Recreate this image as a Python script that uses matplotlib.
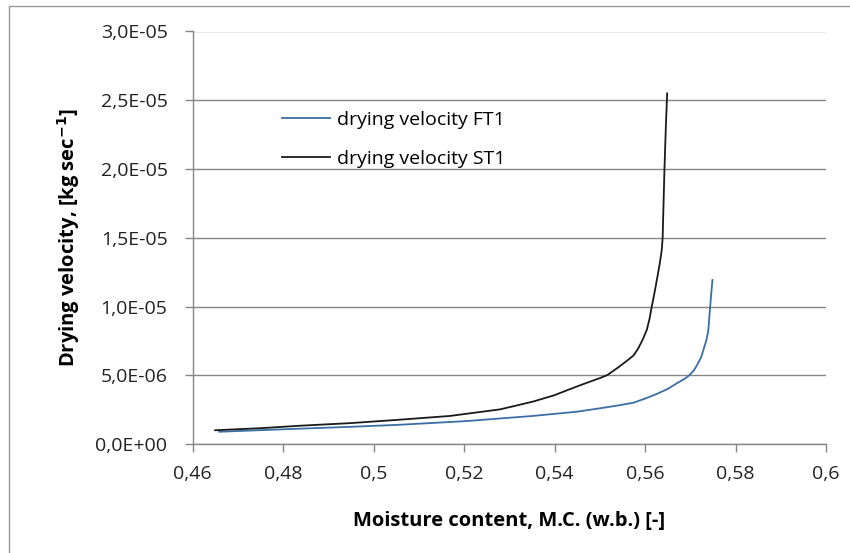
import matplotlib
matplotlib.use("Agg")
import matplotlib.pyplot as plt
import matplotlib.ticker as ticker
from matplotlib.patches import Rectangle

# Moisture content (w.b.) and drying velocity [kg/s]
mc_st1 = [0.4650, 0.4750, 0.4838, 0.4950, 0.5059, 0.5169, 0.5280, 0.5352,
          0.5400, 0.5427, 0.5455, 0.5478, 0.5501, 0.5517, 0.5540, 0.5560,
          0.5575, 0.5585, 0.5595, 0.5604, 0.5610, 0.5615, 0.5621, 0.5626,
          0.5632, 0.5637, 0.5639, 0.5641, 0.5643, 0.5646, 0.5649]
vel_st1 = [1.00e-6, 1.15e-6, 1.33e-6, 1.52e-6, 1.77e-6, 2.04e-6, 2.52e-6, 3.08e-6,
           3.55e-6, 3.90e-6, 4.25e-6, 4.53e-6, 4.80e-6, 5.02e-6, 5.55e-6, 6.05e-6,
           6.45e-6, 6.95e-6, 7.60e-6, 8.30e-6, 9.10e-6, 1.00e-5, 1.10e-5, 1.19e-5,
           1.30e-5, 1.41e-5, 1.50e-5, 1.75e-5, 2.00e-5, 2.30e-5, 2.55e-5]

mc_ft1 = [0.4659, 0.4800, 0.4950, 0.5059, 0.5207, 0.5352, 0.5450, 0.5501,
          0.5540, 0.5574, 0.5600, 0.5626, 0.5650, 0.5670, 0.5688, 0.5698,
          0.5708, 0.5716, 0.5724, 0.5729, 0.5736, 0.5740, 0.5744, 0.5749]
vel_ft1 = [0.89e-6, 1.07e-6, 1.25e-6, 1.40e-6, 1.67e-6, 2.04e-6, 2.35e-6, 2.60e-6,
           2.80e-6, 3.00e-6, 3.30e-6, 3.64e-6, 4.00e-6, 4.41e-6, 4.75e-6, 5.00e-6,
           5.35e-6, 5.80e-6, 6.30e-6, 6.84e-6, 7.60e-6, 8.29e-6, 1.00e-5, 1.193e-5]

x_ticks = [0.46, 0.48, 0.50, 0.52, 0.54, 0.56, 0.58, 0.60]
y_ticks = [0, 5e-6, 1e-5, 1.5e-5, 2e-5, 2.5e-5, 3e-5]

FONT = ["Open Sans", "DejaVu Sans"]
GRID = "#868686"
FS = 14


def fmt_x(v, _pos):
    s = f"{v:.2f}".rstrip("0").rstrip(".")
    return s.replace(".", ",")


def fmt_y(v, _pos):
    return f"{v:.1E}".replace(".", ",")


plt.rcParams["font.family"] = FONT

fig = plt.figure(figsize=(8.5, 5.53), dpi=100)
ax = fig.add_axes([192.5 / 850, 109 / 553, (826 - 192.5) / 850, (444 - 31.5) / 553])

ax.plot(mc_ft1, vel_ft1, color="#3a6ea5", lw=1.3, label="drying velocity FT1",
        solid_joinstyle="round")
ax.plot(mc_st1, vel_st1, color="#1a1a1a", lw=1.3, label="drying velocity ST1",
        solid_joinstyle="round")

ax.set_xlim(0.46, 0.60)
ax.set_ylim(0, 3e-5)
ax.set_xticks(x_ticks)
ax.set_yticks(y_ticks)
ax.xaxis.set_major_formatter(ticker.FuncFormatter(fmt_x))
ax.yaxis.set_major_formatter(ticker.FuncFormatter(fmt_y))

for side in ["top", "right"]:
    ax.spines[side].set_visible(False)
for side in ["left", "bottom"]:
    ax.spines[side].set_color(GRID)
    ax.spines[side].set_linewidth(1.0)

ax.yaxis.grid(True, color=GRID, lw=1.0)
ax.set_axisbelow(True)
ax.tick_params(axis="both", colors=GRID, labelcolor="#222222", labelsize=FS,
               length=6, width=1.0, direction="out")
ax.tick_params(axis="y", pad=12)
ax.tick_params(axis="x", pad=9)

ax.set_xlabel("Moisture content, M.C. (w.b.) [-]", fontsize=14.5,
              fontweight="bold", labelpad=20)
ax.set_ylabel("Drying velocity, [kg sec$^{\\mathbf{-1}}$]", fontsize=14.5,
              fontweight="bold", labelpad=10)

ax.legend(loc="upper left", bbox_to_anchor=(0.1408, 0.807), frameon=False,
          fontsize=FS, handlelength=2.5, handletextpad=0.36,
          labelspacing=1.05, borderpad=0, borderaxespad=0)

# chart area border
fig.patches.append(Rectangle((9 / 850, -0.1), 1.2, 1.1 - 5.7 / 553,
                             transform=fig.transFigure, fill=False,
                             edgecolor="#9a9a9a", lw=1.0))

fig.savefig("out.png", dpi=100, facecolor="white")
